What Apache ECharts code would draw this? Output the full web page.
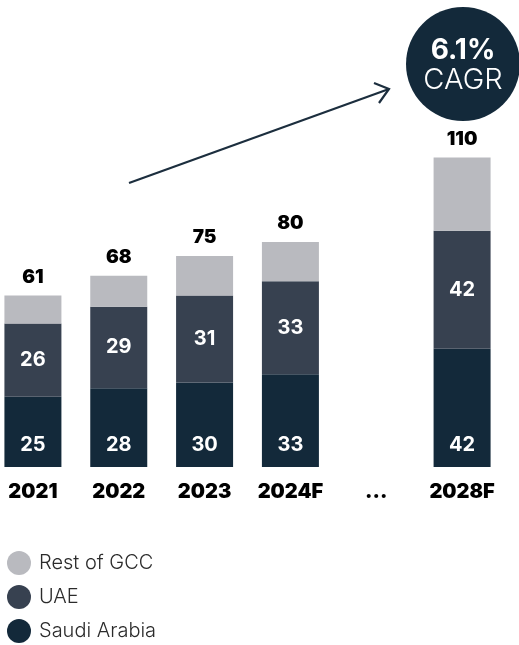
<!DOCTYPE html>
<html>
<head>
<meta charset="utf-8">
<style>
  html, body { margin: 0; padding: 0; background: #ffffff; overflow: hidden; }
  /* the plot is shifted left so the first bar sits close to the edge */
  #chart { position: absolute; left: -10px; top: 0; width: 529px; height: 645px; }
</style>
<script src="https://cdn.jsdelivr.net/npm/echarts@6/dist/echarts.min.js"></script>
</head>
<body>
<div id="chart"></div>
<script>
// Market size by year, stacked by region
const years = ['2021', '2022', '2023', '2024F', '...', '2028F'];
const saudiArabia = [25, 28, 30, 33, null, 42];
const uae = [26, 29, 31, 33, null, 42];
const restOfGcc = [10, 11, 14, 14, null, 26];
const totals = [61, 68, 75, 80, null, 110];
const cagrText = '6.1%';

const COLORS = { saudi: '#13293a', uae: '#374150', rest: '#b9babf' };
const FONT = 'Inter, "Noto Sans", sans-serif';
const DX = 10; // horizontal offset of the canvas inside the page

const chart = echarts.init(document.getElementById('chart'));

const insideLabel = (pos, dist) => ({
  show: true,
  position: pos,
  distance: dist,
  color: '#ffffff',
  fontFamily: FONT,
  fontWeight: 'bold',
  fontSize: 20,
  formatter: p => (p.value == null ? '' : p.value)
});

chart.setOption({
  animation: false,
  backgroundColor: '#ffffff',
  grid: { left: 0, width: 515, top: 0, bottom: 178, containLabel: false },
  xAxis: {
    type: 'category',
    data: years,
    axisLine: { show: false },
    axisTick: { show: false },
    axisLabel: {
      color: '#000000',
      fontFamily: FONT,
      fontWeight: 900,
      fontSize: 20,
      margin: 15
    }
  },
  yAxis: {
    type: 'value',
    min: 0,
    max: 166,
    show: false,
    splitLine: { show: false }
  },
  legend: {
    orient: 'vertical',
    left: 7 + DX,
    top: 551,
    padding: 0,
    itemGap: 10,
    itemWidth: 24,
    itemHeight: 24,
    icon: 'circle',
    data: ['Rest of GCC', 'UAE', 'Saudi Arabia'],
    textStyle: { color: '#2b2b2b', fontFamily: FONT, fontWeight: 300, fontSize: 20, padding: [0, 0, 0, 3] }
  },
  series: [
    {
      name: 'Saudi Arabia',
      type: 'bar',
      stack: 'total',
      barWidth: 57,
      data: saudiArabia,
      itemStyle: { color: COLORS.saudi },
      label: insideLabel('insideBottom', 12)
    },
    {
      name: 'UAE',
      type: 'bar',
      stack: 'total',
      barWidth: 57,
      data: uae,
      itemStyle: { color: COLORS.uae },
      label: insideLabel('inside', 0)
    },
    {
      name: 'Rest of GCC',
      type: 'bar',
      stack: 'total',
      barWidth: 57,
      data: restOfGcc,
      itemStyle: { color: COLORS.rest },
      label: {
        show: true,
        position: 'top',
        distance: 9,
        color: '#000000',
        fontFamily: FONT,
        fontWeight: 900,
        fontSize: 19,
        formatter: p => (totals[p.dataIndex] == null ? '' : totals[p.dataIndex])
      }
    }
  ],
  graphic: [
    // growth arrow
    {
      type: 'polyline',
      shape: { points: [[129 + DX, 183], [389 + DX, 89]] },
      style: { stroke: '#1c2e3e', lineWidth: 2.2, fill: null }
    },
    {
      type: 'polyline',
      shape: { points: [[374 + DX, 83], [389 + DX, 89], [379 + DX, 103]] },
      style: { stroke: '#1c2e3e', lineWidth: 2.2, fill: null, lineJoin: 'miter' }
    },
    // CAGR badge
    {
      type: 'circle',
      shape: { cx: 463 + DX, cy: 64, r: 57 },
      style: { fill: COLORS.saudi }
    },
    {
      type: 'text',
      x: 463 + DX, y: 51,
      style: {
        text: cagrText,
        fill: '#ffffff',
        font: 'bold 28px ' + FONT,
        align: 'center',
        verticalAlign: 'middle'
      }
    },
    {
      type: 'text',
      x: 463 + DX, y: 80,
      style: {
        text: 'CAGR',
        fill: '#ffffff',
        font: '300 29px ' + FONT,
        align: 'center',
        verticalAlign: 'middle'
      }
    }
  ]
});
</script>
</body>
</html>
